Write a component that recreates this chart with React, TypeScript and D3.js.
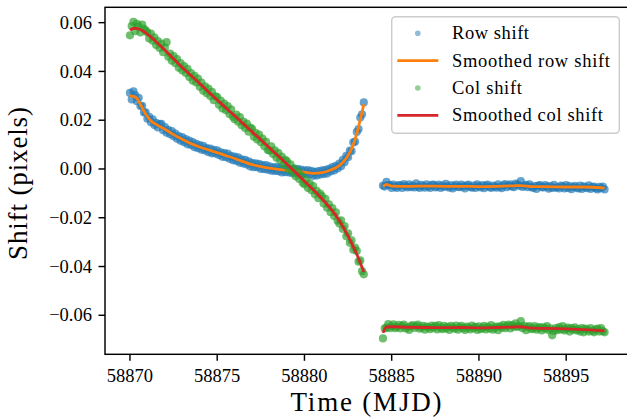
import React from 'react';
import * as d3 from 'd3';

// ---------------- data ----------------
// Sampling cadence (days) and segment start times (MJD)
const CADENCE = 0.1;
const SEG1_START = 58870.0;
const SEG2_START = 58884.5;
// shifts are listed in units of 1e-4 pixel
const UNIT = 1e-4;

const rowShiftSeg1 = [
  312, 285, 318, 303, 278, 292, 258, 259, 232, 232,
  206, 214, 192, 204, 180, 189, 170, 184, 185, 159,
  172, 149, 160, 142, 155, 134, 145, 124, 135, 116,
  131, 110, 122, 101, 116, 98, 110, 89, 103, 85,
  98, 79, 95, 76, 86, 69, 84, 64, 78, 63,
  76, 57, 68, 50, 65, 48, 63, 42, 54, 36,
  51, 33, 48, 26, 39, 22, 37, 18, 31, 10,
  25, 7, 23, 7, 21, 0, 16, -1, 16, -3,
  11, -7, 7, -8, 9, -9, 6, -14, 2, -13,
  3, -14, 1, -18, -1, -18, 0, -17, -3, -21,
  -6, -22, -5, -23, -8, -28, -12, -27, -9, -23,
  -6, -21, -4, -19, 1, -10, 8, -6, 13, 2,
  22, 11, 37, 28, 54, 48, 75, 73, 109, 112,
  152, 164, 211, 224, 273,
];

const colShiftSeg1 = [
  548, 586, 603, 565, 595, 585, 560, 592, 575, 568,
  560, 535, 555, 526, 540, 508, 524, 496, 514, 479,
  498, 520, 460, 473, 444, 463, 434, 451, 415, 434,
  404, 422, 394, 411, 377, 393, 362, 382, 355, 371,
  337, 354, 321, 339, 311, 330, 299, 316, 282, 298,
  295, 263, 280, 248, 268, 241, 258, 225, 244, 214,
  204, 223, 194, 213, 179, 194, 168, 186, 153, 170,
  165, 132, 148, 121, 141, 110, 125, 93, 111, 78,
  75, 93, 61, 76, 46, 66, 37, 51, 18, 37,
  31, -1, 19, -11, 3, -30, -9, -41, -26, -57,
  -63, -46, -78, -59, -87, -70, -104, -90, -120, -101,
  -111, -142, -123, -159, -145, -177, -160, -193, -178, -212,
  -224, -211, -246, -234, -276, -264, -303, -293, -331, -322,
  -336, -380, -375, -419, -432,
];

const rowShiftSeg2 = [
  -68, -72, -53, -66, -66, -78, -64, -72, -78, -66,
  -67, -78, -62, -70, -76, -63, -75, -68, -76, -59,
  -72, -78, -65, -70, -77, -63, -72, -78, -65, -64,
  -76, -72, -64, -78, -68, -74, -61, -71, -77, -66,
  -80, -70, -64, -74, -75, -64, -71, -80, -68, -64,
  -74, -77, -68, -78, -63, -71, -76, -66, -79, -68,
  -64, -74, -78, -68, -72, -77, -63, -73, -79, -67,
  -62, -75, -67, -63, -71, -75, -60, -64, -69, -50,
  -74, -68, -65, -75, -63, -73, -78, -70, -82, -68,
  -66, -75, -76, -66, -72, -81, -70, -78, -65, -77,
  -74, -80, -68, -71, -80, -66, -78, -70, -83, -74,
  -69, -77, -80, -68, -82, -71, -75, -79, -67, -82,
  -74, -72, -80, -84, -73, -79, -72, -84,
];

const colShiftSeg2 = [
  -695, -654, -651, -636, -653, -645, -637, -653, -648, -639,
  -654, -643, -638, -654, -649, -660, -644, -640, -652, -644,
  -638, -655, -650, -643, -659, -646, -649, -657, -642, -651,
  -643, -658, -640, -651, -657, -643, -654, -647, -660, -643,
  -650, -655, -642, -659, -649, -643, -653, -660, -646, -650,
  -658, -642, -653, -647, -660, -645, -657, -652, -643, -658,
  -647, -654, -640, -659, -651, -646, -661, -645, -651, -639,
  -653, -644, -638, -654, -640, -647, -633, -648, -644, -624,
  -653, -643, -661, -648, -644, -657, -654, -644, -659, -652,
  -648, -662, -649, -655, -644, -661, -654, -682, -664, -653,
  -661, -648, -658, -644, -662, -656, -650, -667, -653, -659,
  -649, -662, -657, -667, -653, -670, -655, -659, -667, -653,
  -664, -670, -658, -655, -667, -653, -665, -670,
];

// Smoothed curves: knot times (MJD) and values (1e-4 pixel)
const smoothRowSeg1Time = [
  58870.0, 58870.2, 58870.4, 58870.6, 58870.8, 58871.0, 58871.2, 58871.5, 58872.0, 58872.5,
  58873.0, 58873.5, 58874.0, 58874.5, 58875.0, 58875.5, 58876.0, 58876.5, 58877.0, 58877.5,
  58878.0, 58878.5, 58879.0, 58879.5, 58880.0, 58880.5, 58881.0, 58881.5, 58882.0, 58882.3,
  58882.6, 58882.8, 58883.0, 58883.2, 58883.3, 58883.4,
];
const smoothRowSeg1 = [
  300, 298, 290, 265, 238, 215, 198, 183, 163, 141,
  122, 104, 90, 78, 67, 55, 43, 30, 18, 10,
  3, -2, -6, -9, -13, -18, -15, -4, 14, 35,
  68, 100, 145, 203, 232, 265,
];

const smoothColSeg1Time = [
  58870.0, 58870.25, 58870.5, 58870.75, 58871.0, 58871.5, 58872.0, 58872.5, 58873.0, 58873.5,
  58874.0, 58874.5, 58875.0, 58875.5, 58876.0, 58876.5, 58877.0, 58877.5, 58878.0, 58878.5,
  58879.0, 58879.5, 58880.0, 58880.5, 58881.0, 58881.5, 58882.0, 58882.5, 58883.0, 58883.4,
];
const smoothColSeg1 = [
  570, 577, 574, 566, 553, 522, 487, 451, 416, 383,
  350, 316, 283, 250, 218, 185, 152, 120, 86, 53,
  19, -15, -50, -85, -122, -163, -212, -275, -350, -422,
];

const smoothSeg2Time = [
  58884.5, 58884.7, 58885.0, 58886.0, 58887.0, 58888.0, 58889.0, 58890.0, 58891.0, 58892.0,
  58892.4, 58893.0, 58894.0, 58895.0, 58896.0, 58897.0, 58897.2,
];
const smoothRowSeg2 = [-72, -63, -70, -71, -70, -71, -71, -72, -71, -69, -68, -72, -73, -74, -74, -77, -79];
const smoothColSeg2 = [-672, -648, -647, -649, -650, -651, -650, -652, -650, -648, -647, -653, -654, -656, -659, -663, -664];

const xTicks = [58870, 58875, 58880, 58885, 58890, 58895];
const yTicks = [-0.06, -0.04, -0.02, 0.0, 0.02, 0.04, 0.06];
const legendLabels = ['Row shift', 'Smoothed row shift', 'Col shift', 'Smoothed col shift'];

// ---------------- layout / style ----------------
const W = 627;
const H = 420;
const AX = { left: 105, right: 629, top: 7.3, bottom: 354.3 };
const X_DOMAIN = [58868.57, 58898.6];
const Y_DOMAIN = [-0.076, 0.0663];
const FONT = "'Liberation Serif', 'DejaVu Serif', serif";
const C_ROW = '#1f77b4';
const C_ROW_S = '#ff7f0e';
const C_COL = '#2ca02c';
const C_COL_S = '#d62728';
const LEGEND_WIDTHS = [77, 158, 70, 151];
const DOT_R = 4.1;
const DOT_ALPHA = 0.68;

type Pt = { t: number; v: number };

const sampled = (start: number, vals: number[]): Pt[] =>
  vals.map((v, i) => ({ t: start + i * CADENCE, v: v * UNIT }));
const knots = (ts: number[], vals: number[]): Pt[] => ts.map((t, i) => ({ t, v: vals[i] * UNIT }));

export default function App() {
  const x = d3.scaleLinear().domain(X_DOMAIN).range([AX.left, AX.right]);
  const y = d3.scaleLinear().domain(Y_DOMAIN).range([AX.bottom, AX.top]);
  const line = d3
    .line<Pt>()
    .x((d) => x(d.t))
    .y((d) => y(d.v))
    .curve(d3.curveMonotoneX);

  const rowPts = [...sampled(SEG1_START, rowShiftSeg1), ...sampled(SEG2_START, rowShiftSeg2)];
  const colPts = [...sampled(SEG1_START, colShiftSeg1), ...sampled(SEG2_START, colShiftSeg2)];
  const rowLines = [knots(smoothRowSeg1Time, smoothRowSeg1), knots(smoothSeg2Time, smoothRowSeg2)];
  const colLines = [knots(smoothColSeg1Time, smoothColSeg1), knots(smoothSeg2Time, smoothColSeg2)];
  const fmt = d3.format('.2f');

  const lg = { x: 391.7, y: 16.7, w: 227.6, h: 116.6, rowY: [33.3, 60.7, 88, 115.3] };
  const legendKinds = [
    { kind: 'dot', color: C_ROW },
    { kind: 'line', color: C_ROW_S },
    { kind: 'dot', color: C_COL },
    { kind: 'line', color: C_COL_S },
  ];

  return (
    <svg
      width={W}
      height={H}
      style={{ position: 'absolute', left: 0, top: 0, background: '#fff' }}
      fontFamily={FONT}
    >
      <rect x={0} y={0} width={W} height={H} fill="#fff" />
      <g>
        {rowPts.map((d, i) => (
          <circle key={'r' + i} cx={x(d.t)} cy={y(d.v)} r={DOT_R} fill={C_ROW} fillOpacity={DOT_ALPHA} />
        ))}
        {rowLines.map((seg, i) => (
          <path key={'rl' + i} d={line(seg) || ''} fill="none" stroke={C_ROW_S} strokeWidth={2.8} />
        ))}
        {colPts.map((d, i) => (
          <circle key={'c' + i} cx={x(d.t)} cy={y(d.v)} r={DOT_R} fill={C_COL} fillOpacity={DOT_ALPHA} />
        ))}
        {colLines.map((seg, i) => (
          <path key={'cl' + i} d={line(seg) || ''} fill="none" stroke={C_COL_S} strokeWidth={2.8} />
        ))}
      </g>

      {/* spines */}
      <rect
        x={AX.left}
        y={AX.top}
        width={AX.right - AX.left}
        height={AX.bottom - AX.top}
        fill="none"
        stroke="#000"
        strokeWidth={1.45}
      />

      {/* x ticks */}
      {xTicks.map((t) => (
        <g key={'xt' + t}>
          <line x1={x(t)} x2={x(t)} y1={AX.bottom} y2={AX.bottom + 6.5} stroke="#000" strokeWidth={1.45} />
          <text x={x(t)} y={381.5} fontSize={18.5} textAnchor="middle" fill="#000">
            {t}
          </text>
        </g>
      ))}
      {/* y ticks */}
      {yTicks.map((v) => (
        <g key={'yt' + v}>
          <line x1={AX.left - 6.5} x2={AX.left} y1={y(v)} y2={y(v)} stroke="#000" strokeWidth={1.45} />
          <text x={92} y={y(v) + 6.2} fontSize={18.5} textAnchor="end" fill="#000">
            {fmt(v)}
          </text>
        </g>
      ))}

      {/* axis titles */}
      <text x={366} y={411} fontSize={27} textAnchor="middle" textLength={151} lengthAdjust="spacing">
        Time (MJD)
      </text>
      <text
        transform={`translate(27, 183.5) rotate(-90)`}
        fontSize={27}
        textAnchor="middle"
        textLength={153}
        lengthAdjust="spacing"
      >
        Shift (pixels)
      </text>

      {/* legend */}
      <rect
        x={lg.x}
        y={lg.y}
        width={lg.w}
        height={lg.h}
        rx={4}
        ry={4}
        fill="#fff"
        fillOpacity={0.8}
        stroke="#cccccc"
        strokeWidth={1.45}
      />
      {legendLabels.map((label, i) => {
        const cy = lg.rowY[i];
        const k = legendKinds[i];
        return (
          <g key={'lg' + i}>
            {k.kind === 'dot' ? (
              <circle cx={417.8} cy={cy} r={2.8} fill={k.color} fillOpacity={0.5} />
            ) : (
              <line x1={397.3} x2={438.3} y1={cy} y2={cy} stroke={k.color} strokeWidth={2.8} />
            )}
            <text
              x={452}
              y={cy + 5.8}
              fontSize={18.5}
              textLength={LEGEND_WIDTHS[i]}
              lengthAdjust="spacing"
              fill="#000"
            >
              {label}
            </text>
          </g>
        );
      })}
    </svg>
  );
}
